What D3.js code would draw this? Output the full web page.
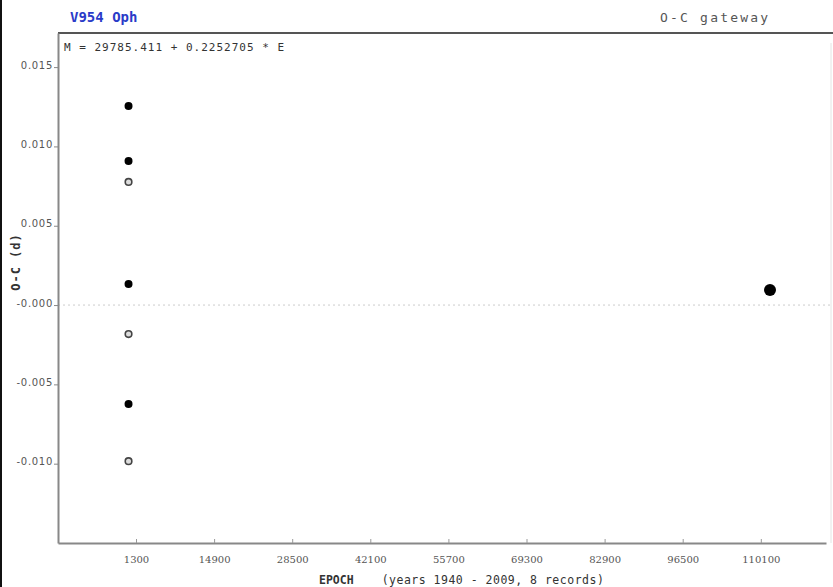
<!DOCTYPE html>
<html>
<head>
<meta charset="utf-8">
<script src="https://cdn.jsdelivr.net/npm/d3@7/dist/d3.min.js"></script>
<style>
  html, body { margin: 0; padding: 0; background: #fff; }
  svg { display: block; }
</style>
</head>
<body>
<svg id="chart" width="833" height="587"></svg>
<script>
// O-C observations for V954 Oph: epoch, O-C residual (days), marker kind
const epochs   = [0, 0, 0, 0, 0, 0, 0, 111700];
const ocValues = [0.01255, 0.00908, 0.00776, 0.00132, -0.00183, -0.00624, -0.00984, 0.00095];
const kinds    = ["filled", "filled", "open", "filled", "open", "filled", "open", "large"];

const xTicks = [1300, 14900, 28500, 42100, 55700, 69300, 82900, 96500, 110100];
const yTicks = [0.015, 0.010, 0.005, 0.000, -0.005, -0.010];
const yTickLabels = ["0.015", "0.010", "0.005", "-0.000", "-0.005", "-0.010"];

const starName = "V954 Oph";
const sourceName = "O-C gateway";
const ephemeris = "M = 29785.411 + 0.2252705 * E";

const svg = d3.select("#chart");
const W = 833, H = 587;
const plot = { left: 58, right: 826, top: 33, bottom: 543 };

const x = d3.scaleLinear()
  .domain([1300 - 13600 * (78 / 78.1), 1300 + 13600 * (690 / 78.1)])
  .range([plot.left, plot.right]);
const y = d3.scaleLinear()
  .domain([-0.015, 0.01715])
  .range([plot.bottom, plot.top]);

// left black edge
svg.append("rect").attr("x", 0).attr("y", 0).attr("width", 2).attr("height", H).attr("fill", "#111");

// zero reference line
svg.append("line")
  .attr("x1", plot.left).attr("x2", W)
  .attr("y1", y(0)).attr("y2", y(0))
  .attr("stroke", "#ccc").attr("stroke-width", 1)
  .attr("stroke-dasharray", "2,3");

// frame lines
svg.append("line").attr("x1", plot.left).attr("x2", W).attr("y1", plot.top).attr("y2", plot.top)
  .attr("stroke", "#555").attr("stroke-width", 2);
svg.append("line").attr("x1", W - 2).attr("x2", W - 2).attr("y1", plot.top + 10).attr("y2", plot.bottom)
  .attr("stroke", "#e4e4e4").attr("stroke-width", 1);

// y axis
const yAxis = d3.axisLeft(y)
  .tickValues(yTicks)
  .tickFormat((d, i) => yTickLabels[i])
  .tickSize(4).tickSizeOuter(0);
const gy = svg.append("g").attr("transform", `translate(${plot.left},0)`).call(yAxis);
gy.select(".domain").attr("stroke", "#888").attr("stroke-width", 2);
gy.selectAll(".tick line").attr("stroke", "#888");
gy.selectAll(".tick text")
  .attr("font-family", "DejaVu Sans, sans-serif").attr("font-size", 10).attr("fill", "#555")
  .attr("letter-spacing", 0.7)
  .attr("x", -5).attr("dy", "0.1em");

// x axis
const xAxis = d3.axisBottom(x).tickValues(xTicks).tickFormat(d3.format("d")).tickSize(-4).tickSizeOuter(0);
const gx = svg.append("g").attr("transform", `translate(0,${plot.bottom})`).call(xAxis);
gx.select(".domain").attr("stroke", "#888").attr("stroke-width", 2);
gx.selectAll(".tick line").attr("stroke", "#999");
gx.selectAll(".tick text")
  .attr("font-family", "DejaVu Serif, serif").attr("font-size", 10).attr("fill", "#555")
  .attr("y", 13).attr("dy", "0.71em");

// points
const pts = epochs.map((e, i) => ({ e, v: ocValues[i], k: kinds[i] }));
svg.append("g").selectAll("circle").data(pts).join("circle")
  .attr("cx", d => x(d.e))
  .attr("cy", d => y(d.v))
  .attr("r", d => d.k === "large" ? 6 : d.k === "open" ? 3.3 : 4)
  .attr("fill", d => d.k === "open" ? "#ddd" : "#000")
  .attr("stroke", d => d.k === "open" ? "#444" : "none")
  .attr("stroke-width", 1.6);

// titles
svg.append("text").attr("x", 70).attr("y", 22)
  .attr("font-family", "DejaVu Sans Mono, monospace").attr("font-weight", "bold")
  .attr("font-size", 14).attr("fill", "#2a3bc8").text(starName);
svg.append("text").attr("x", 660).attr("y", 22)
  .attr("font-family", "DejaVu Sans Mono, monospace")
  .attr("font-size", 13).attr("letter-spacing", 2.2).attr("fill", "#555").text(sourceName);
svg.append("text").attr("x", 64).attr("y", 51)
  .attr("font-family", "DejaVu Sans Mono, monospace")
  .attr("font-size", 11).attr("letter-spacing", 1).attr("fill", "#333").text(ephemeris);

// axis titles
svg.append("text")
  .attr("transform", `translate(20,262) rotate(-90)`)
  .attr("text-anchor", "middle")
  .attr("font-family", "DejaVu Sans Mono, monospace").attr("font-weight", "bold")
  .attr("font-size", 12).attr("letter-spacing", 1).attr("fill", "#333").text("O-C (d)");
const xt = svg.append("text").attr("x", 319).attr("y", 584)
  .attr("font-family", "DejaVu Sans Mono, monospace").attr("font-size", 11.5).attr("fill", "#333");
xt.append("tspan").attr("font-weight", "bold").text("EPOCH");
xt.append("tspan").attr("dx", 28).attr("letter-spacing", 0.5).text("(years 1940 - 2009, 8 records)");
</script>
</body>
</html>
